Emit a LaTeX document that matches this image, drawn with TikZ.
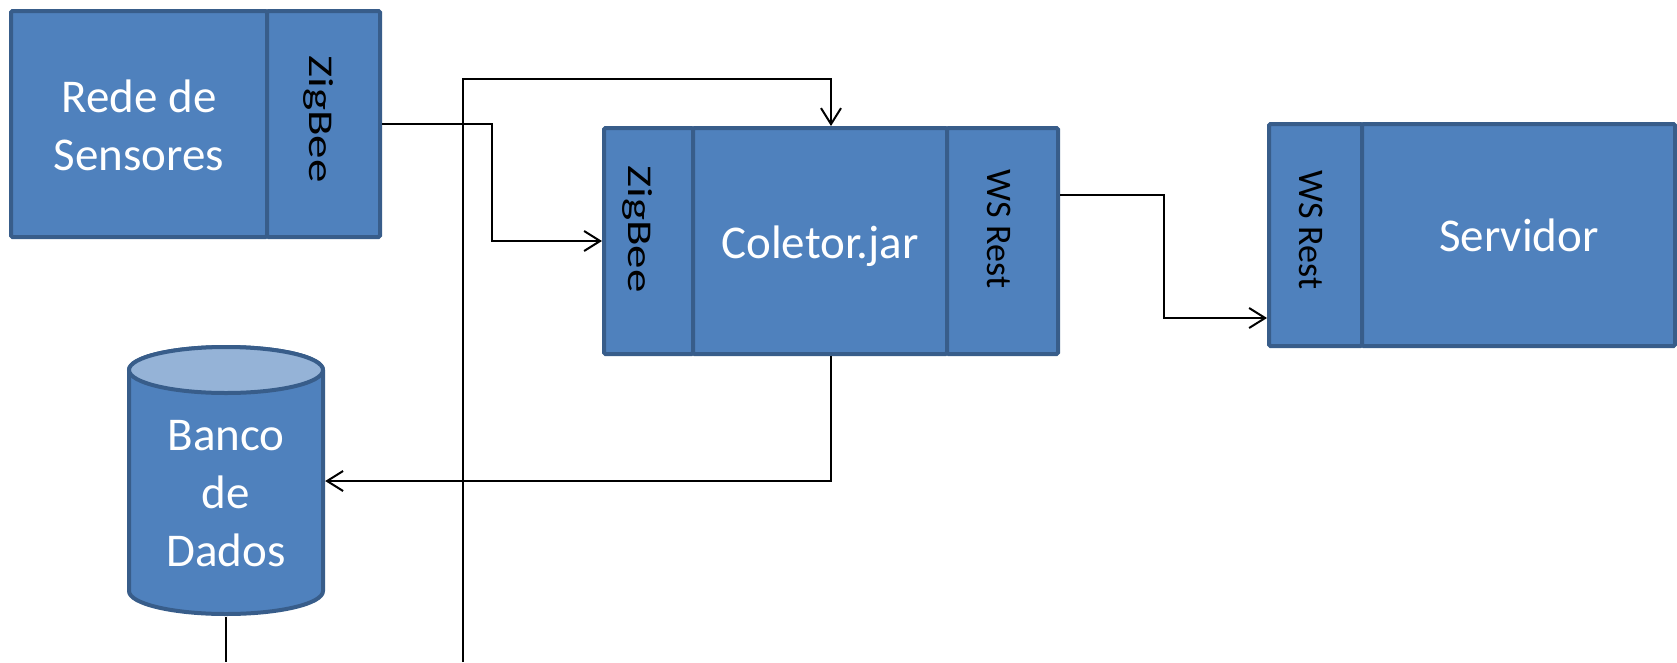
\documentclass[tikz,border=0pt]{standalone}
\usepackage{fontspec}
\setmainfont{Carlito}
\usetikzlibrary{arrows.meta,calc}
\definecolor{boxfill}{HTML}{4F81BD}
\definecolor{boxline}{HTML}{385D8A}
\definecolor{dbtop}{HTML}{95B3D7}
\begin{document}
\begin{tikzpicture}[x=1pt,y=-1pt,
  part/.style={draw=boxline, fill=boxfill, line width=4pt, rounded corners=1.5pt, inner sep=0pt, minimum height=226pt},
  maintext/.style={text=white, font=\fontsize{47}{58}\selectfont, align=center, inner sep=0pt},
  sidetext/.style={text=black, font=\fontsize{36}{43}\selectfont, rotate=-90, inner sep=0pt},
  zigtext/.style={text=black, font=\fontsize{47}{56}\selectfont, rotate=-90, inner sep=0pt},
  conn/.style={line width=2pt, draw=black},
  tip/.style={-{Straight Barb[length=16pt,width=20pt,line width=2pt]}}
]
\useasboundingbox (0,0) rectangle (1677,662);

% Rede de Sensores
\node[part, minimum width=256pt] (rede) at (139,124) {};
\node[part, minimum width=113pt] (rz) at (323.5,124) {};
% Coletor
\node[part, minimum width=89pt] (cz) at (648.5,241) {};
\node[part, minimum width=254pt] (col) at (820,241) {};
\node[part, minimum width=111pt] (cws) at (1002.5,241) {};
% Servidor
\node[part, minimum width=93pt, minimum height=222pt] (sws) at (1315.5,235) {};
\node[part, minimum width=313pt, minimum height=222pt] (serv) at (1518.5,235) {};

% Banco de Dados cylinder
\path[fill=boxfill, draw=boxline, line width=4pt] (129,370) -- (129,591)
  arc[start angle=180, end angle=0, x radius=97, y radius=23] -- (323,370)
  arc[start angle=0, end angle=-180, x radius=97, y radius=23] -- cycle;
\draw[fill=dbtop, draw=boxline, line width=4pt] (226,370) ellipse [x radius=97, y radius=23];
\node[inner sep=0pt, minimum width=198pt, minimum height=272pt] (db) at (226,481) {};

% Texts
\node[maintext] (tRede) at (139,125) {Rede de\\Sensores};
\node[maintext] (tCol) at (820,246) {Coletor.jar};
\node[maintext] (tServ) at (1519,235) {Servidor};
\node[maintext] (tDb) at (226,494) {Banco\\de\\Dados};
\node[zigtext] (tz1) at (318.6,119) {\scalebox{1}[0.74]{ZigBee}};
\node[zigtext] (tz2) at (637,229) {\scalebox{1}[0.74]{ZigBee}};
\node[sidetext] (tw1) at (998.7,229) {WS Rest};
\node[sidetext] (tw2) at (1311.5,230) {WS Rest};

% Connectors
\coordinate (gtop) at ($(cz.north west)!0.5!(cws.north east)$);
\coordinate (gbot) at ($(cz.south west)!0.5!(cws.south east)$);
\coordinate (loopS) at (463,662);
\coordinate (dbS) at (226,662);
\coordinate (c1) at ($(cws.north east)!0.3!(cws.south east)$);
\coordinate (s1) at ($(sws.south west)+(0,-30)$);

\draw[conn,tip] (rz.east) -| ($(rz.east)!0.5!(cz.west)$) |- (cz.west);
\draw[conn,tip] (loopS) |- ([yshift=47pt]gtop) -- (gtop);
\draw[conn,tip] (gbot) |- (db.east);
\draw[conn] (db.south) -- (dbS);
\draw[conn,tip] (c1) -| ($(c1)!0.5!(s1)$) |- (s1);
\end{tikzpicture}
\end{document}
